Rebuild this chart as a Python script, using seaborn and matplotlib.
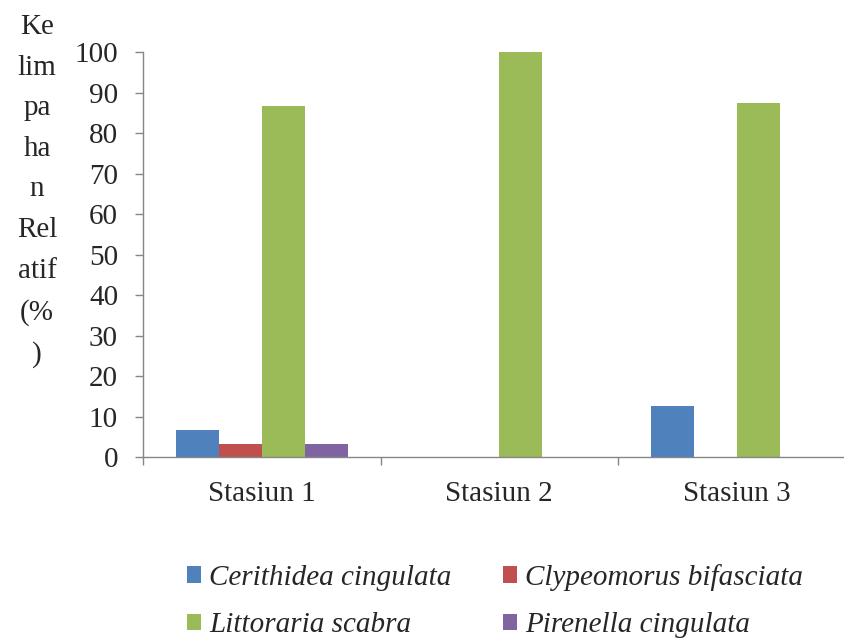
import matplotlib
matplotlib.use("Agg")
import matplotlib.pyplot as plt
import matplotlib.patches as mpatches
import seaborn as sns
import pandas as pd

stations = ["Stasiun 1", "Stasiun 2", "Stasiun 3"]
species = ["Cerithidea cingulata", "Clypeomorus bifasciata",
           "Littoraria scabra", "Pirenella cingulata"]
cerithidea = [6.67, 0, 12.5]
clypeomorus = [3.33, 0, 0]
littoraria = [86.67, 100, 87.5]
pirenella = [3.33, 0, 0]
yticks = list(range(0, 101, 10))
ylabel_lines = ["Ke", "lim", "pa", "ha", "n", "Rel", "atif", "(%", ")"]

colors = ["#4F81BD", "#C0504D", "#9BBB59", "#8064A2"]

rows = []
for sp, vals in zip(species, [cerithidea, clypeomorus, littoraria, pirenella]):
    for st, v in zip(stations, vals):
        rows.append({"Stasiun": st, "Spesies": sp, "Nilai": v})
df = pd.DataFrame(rows)

sns.set_style("white")
plt.rcParams["font.family"] = "serif"
plt.rcParams["font.serif"] = ["Liberation Serif", "Times New Roman", "DejaVu Serif"]
FS = 21

fig = plt.figure(figsize=(8.45, 6.41), dpi=100)
ax = fig.add_axes([143 / 845, 1 - 457 / 641, 712.5 / 845, (457 - 52.3) / 641])

sns.barplot(data=df, x="Stasiun", y="Nilai", hue="Spesies", order=stations,
            hue_order=species, palette=colors, width=0.724, gap=0,
            linewidth=0, saturation=1, legend=False, ax=ax, errorbar=None)

ax.set_xlim(-0.5, 2.5)
ax.set_ylim(0, 100)
ax.set_yticks(yticks)
ax.set_yticklabels([str(t) for t in yticks], fontsize=FS)
ax.set_xticks(range(len(stations)))
ax.set_xticklabels(stations, fontsize=FS)
ax.set_xticks([-0.5, 0.5, 1.5, 2.5], minor=True)
ax.tick_params(axis="x", which="major", length=0, pad=17)
ax.tick_params(axis="x", which="minor", length=6, color="#868686", width=1, direction="out", bottom=True)
ax.tick_params(axis="y", which="major", length=6, color="#868686", width=1, direction="out", left=True, pad=12)
ax.set_xlabel("")
ax.set_ylabel("")
for side in ["top", "right"]:
    ax.spines[side].set_visible(False)
for side in ["left", "bottom"]:
    ax.spines[side].set_color("#868686")
    ax.spines[side].set_linewidth(1)
ax.grid(False)

fig.text(37 / 845, 1 - 14 / 641, "\n".join(ylabel_lines), ha="center", va="top",
         fontsize=FS, linespacing=1.73)

handles = [mpatches.Patch(facecolor=c, edgecolor="none", label=s) for c, s in zip(colors, species)]
order = [0, 2, 1, 3]
leg = fig.legend(handles=[handles[i] for i in order], ncol=2, loc="center",
                 bbox_to_anchor=(495 / 845, 1 - 601 / 641),
                 frameon=False, prop={"style": "italic", "size": FS}, handlelength=0.5,
                 handleheight=0.5, handletextpad=0.28, columnspacing=1.75, labelspacing=0.75)

fig.savefig("out.png", dpi=100)
